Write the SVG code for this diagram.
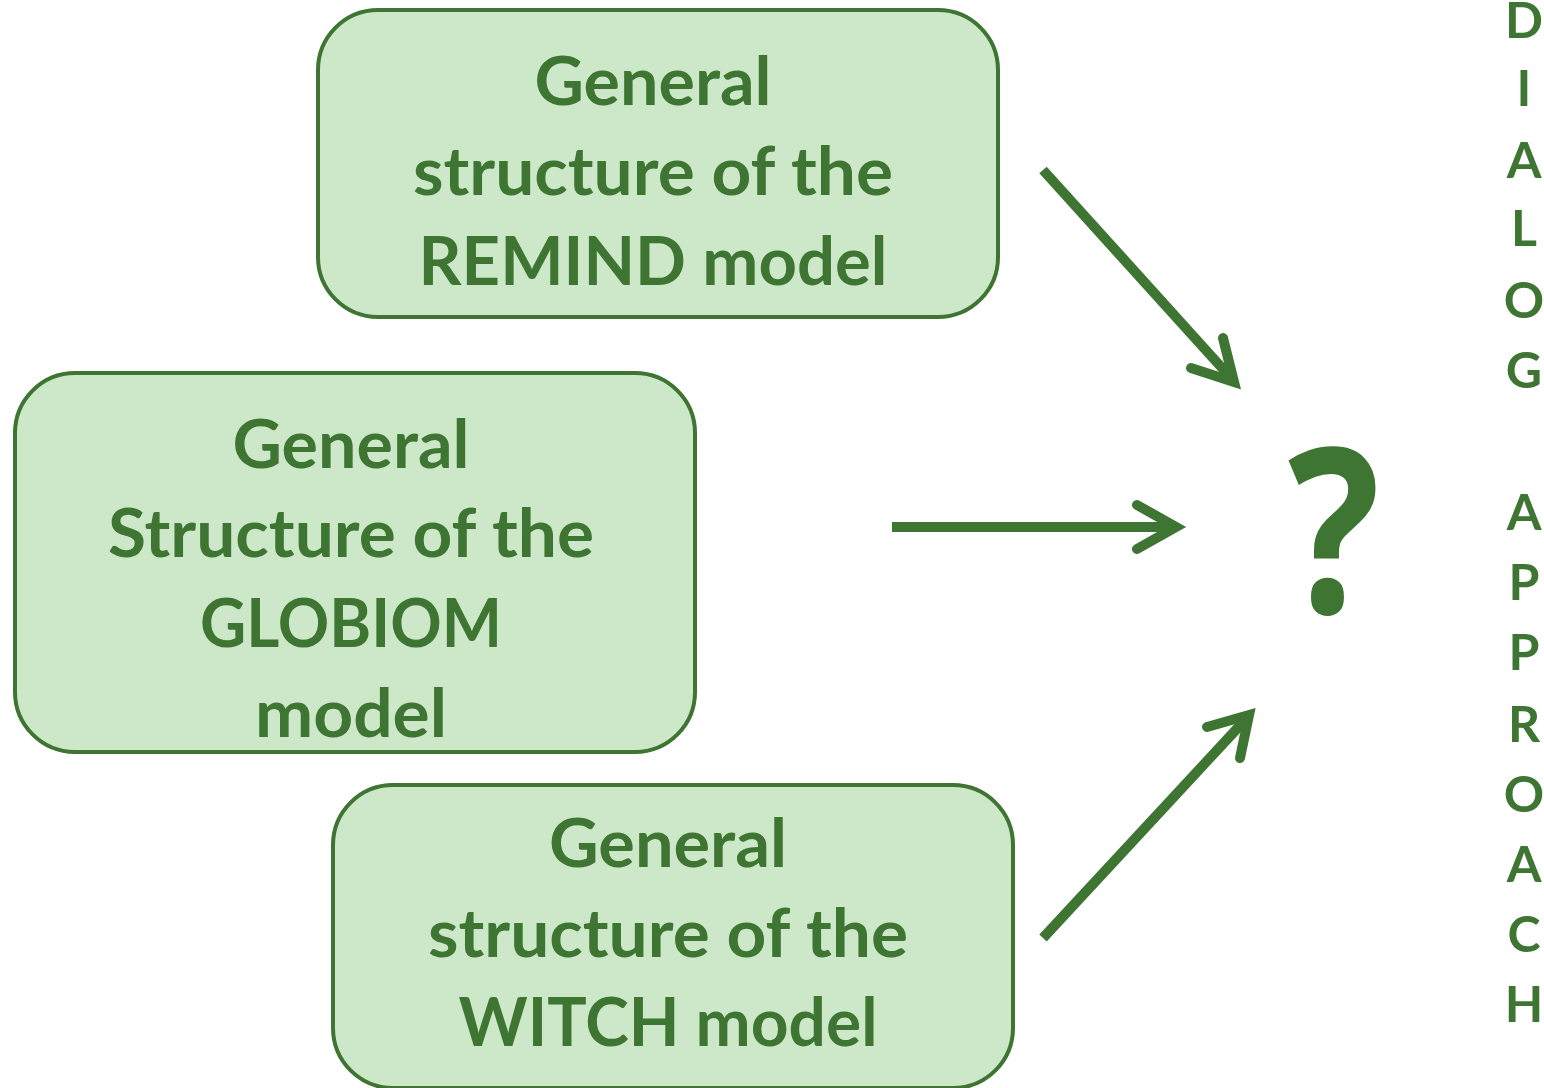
<svg xmlns="http://www.w3.org/2000/svg" width="1544" height="1088" viewBox="0 0 1544 1088">
<style>
.box{fill:#cde8c9;stroke:#3e7532;stroke-width:4}
.t{font-family:Lato,"Open Sans","Liberation Sans",sans-serif;font-weight:bold;fill:#3e7532;font-size:66px;text-anchor:middle}
.v{font-family:Lato,"Open Sans","Liberation Sans",sans-serif;font-weight:bold;fill:#3e7532;font-size:50px;text-anchor:middle}
.q{font-family:"Open Sans",Lato,"Liberation Sans",sans-serif;font-weight:bold;fill:#3e7532;font-size:230px;text-anchor:middle}
.a{fill:none;stroke:#3e7532;stroke-width:10}
.h{fill:none;stroke:#3e7532;stroke-width:10;stroke-linecap:round;stroke-linejoin:miter}
</style>
<rect width="1544" height="1088" fill="#fff"/>
<g id="remind">
<rect class="box" x="318" y="10" width="680" height="307" rx="60"/>
<text class="t" x="653" y="105" textLength="237" lengthAdjust="spacingAndGlyphs">General</text>
<text class="t" x="653" y="195" textLength="480" lengthAdjust="spacingAndGlyphs">structure of the</text>
<text class="t" x="653" y="285" textLength="469" lengthAdjust="spacingAndGlyphs">REMIND model</text>
</g>
<g id="globiom">
<rect class="box" x="15" y="373" width="680" height="379" rx="60"/>
<text class="t" x="351" y="468" textLength="237" lengthAdjust="spacingAndGlyphs">General</text>
<text class="t" x="351" y="557" textLength="486" lengthAdjust="spacingAndGlyphs">Structure of the</text>
<text class="t" x="351" y="647" textLength="302" lengthAdjust="spacingAndGlyphs">GLOBIOM</text>
<text class="t" x="351" y="737" textLength="192" lengthAdjust="spacingAndGlyphs">model</text>
</g>
<g id="witch">
<rect class="box" x="333" y="785" width="680" height="303" rx="60"/>
<text class="t" x="668" y="867" textLength="238" lengthAdjust="spacingAndGlyphs">General</text>
<text class="t" x="668" y="957" textLength="480" lengthAdjust="spacingAndGlyphs">structure of the</text>
<text class="t" x="668" y="1046" textLength="419" lengthAdjust="spacingAndGlyphs">WITCH model</text>
</g>
<g id="connectors">
<line class="a" x1="1043" y1="170" x2="1232" y2="379"/>
<polyline class="h" points="1223,338 1234,382 1191,368"/>
<line class="a" x1="892" y1="527" x2="1176" y2="527"/>
<polyline class="h" points="1137,505 1176,527 1137,549"/>
<line class="a" x1="1043" y1="938" x2="1246" y2="719"/>
<polyline class="h" points="1207,727 1249,715 1240,758"/>
</g>
<g id="question">
<text class="q" x="1334" y="613" textLength="92" lengthAdjust="spacingAndGlyphs">?</text>
</g>
<g id="dialog-approach">
<text class="v" x="1524" y="38">D</text>
<text class="v" x="1524" y="106">I</text>
<text class="v" x="1524" y="178">A</text>
<text class="v" x="1524" y="246">L</text>
<text class="v" x="1524" y="318">O</text>
<text class="v" x="1524" y="388">G</text>
<text class="v" x="1524" y="530">A</text>
<text class="v" x="1524" y="600">P</text>
<text class="v" x="1524" y="670">P</text>
<text class="v" x="1524" y="742">R</text>
<text class="v" x="1524" y="812">O</text>
<text class="v" x="1524" y="882">A</text>
<text class="v" x="1524" y="952">C</text>
<text class="v" x="1524" y="1022">H</text>
</g>
</svg>
